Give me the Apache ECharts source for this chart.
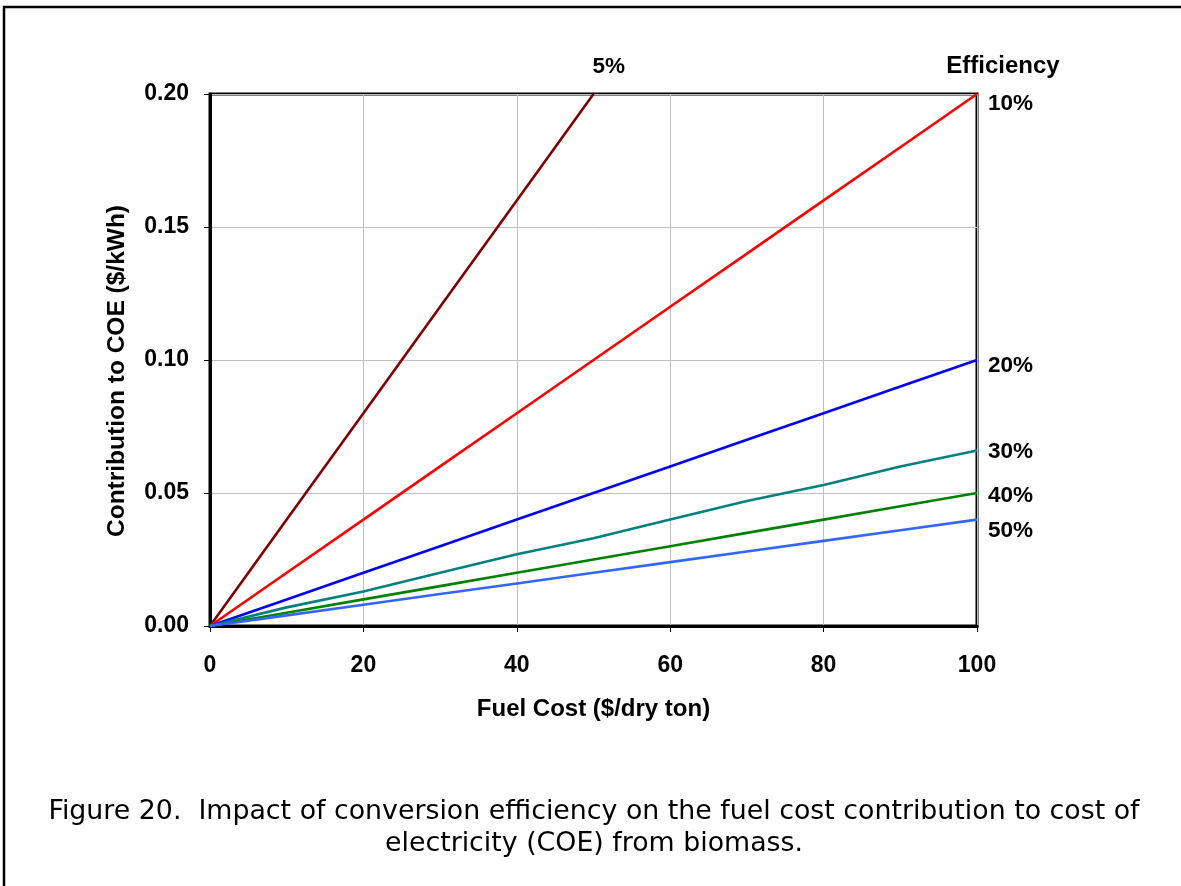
<!DOCTYPE html>
<html>
<head>
<meta charset="utf-8">
<script src="https://cdn.jsdelivr.net/npm/echarts@6/dist/echarts.min.js"></script>
<style>
  html, body { margin: 0; padding: 0; background: #fff; }
  #chart { width: 1181px; height: 886px; }
</style>
</head>
<body>
<div id="chart"></div>
<script>
// Fuel cost ($/dry ton) sample points
const fuelCost = [0, 10, 20, 30, 40, 50, 60, 70, 80, 90, 100];

// Contribution to COE ($/kWh) for each conversion efficiency
const eff5  = [0, 0.04, 0.08, 0.12, 0.16, 0.20];
const eff10 = [0, 0.02, 0.04, 0.06, 0.08, 0.10, 0.12, 0.14, 0.16, 0.18, 0.20];
const eff20 = [0, 0.01, 0.02, 0.03, 0.04, 0.05, 0.06, 0.07, 0.08, 0.09, 0.10];
const eff30 = [0, 0.007, 0.013, 0.02, 0.027, 0.033, 0.04, 0.047, 0.053, 0.06, 0.066];
const eff40 = [0, 0.005, 0.01, 0.015, 0.02, 0.025, 0.03, 0.035, 0.04, 0.045, 0.05];
const eff50 = [0, 0.004, 0.008, 0.012, 0.016, 0.02, 0.024, 0.028, 0.032, 0.036, 0.04];

const seriesNames = ['5%', '10%', '20%', '30%', '40%', '50%'];
const seriesData = [eff5, eff10, eff20, eff30, eff40, eff50];
const seriesColors = ['#800000', '#ff0000', '#0000ff', '#008080', '#008000', '#3366ff'];
const labelOffsets = [[-9, -27], [3, 10], [3, 6], [3, 1], [3, 3], [3, 11]];

const xTicks = { min: 0, max: 100, interval: 20 };
const yTicks = { min: 0, max: 0.2, interval: 0.05 };

const captionLines = [
  'Figure 20.  Impact of conversion efficiency on the fuel cost contribution to cost of',
  'electricity (COE) from biomass.'
];

const boldFont = "'Liberation Sans', Arial, sans-serif";

const chart = echarts.init(document.getElementById('chart'), null, { renderer: 'canvas' });

const series = seriesNames.map((name, i) => ({
  name: name,
  type: 'line',
  data: seriesData[i].map((v, k) => [fuelCost[k], v]),
  showSymbol: false,
  symbol: 'none',
  clip: false,
  lineStyle: { color: seriesColors[i], width: 2.6 },
  itemStyle: { color: seriesColors[i] },
  endLabel: {
    show: true,
    formatter: name,
    offset: labelOffsets[i],
    color: '#000',
    fontFamily: boldFont,
    fontWeight: 'bold',
    fontSize: 22.5
  },
  emphasis: { disabled: true },
  z: 2
}));

chart.setOption({
  animation: false,
  backgroundColor: '#fff',
  grid: {
    left: 210, right: 204, top: 94, bottom: 260,
    show: true, borderColor: '#000', borderWidth: 3, backgroundColor: 'transparent'
  },
  title: {
    text: captionLines.join('\n'),
    left: 589,
    top: 791,
    textAlign: 'center',
    textStyle: {
      fontFamily: "'DejaVu Sans', Verdana, sans-serif",
      fontWeight: 'normal',
      fontSize: 26.8,
      lineHeight: 32,
      color: '#000'
    }
  },
  xAxis: {
    type: 'value',
    min: xTicks.min, max: xTicks.max, interval: xTicks.interval,
    name: 'Fuel Cost ($/dry ton)',
    nameLocation: 'middle',
    nameGap: 71,
    nameTextStyle: { fontFamily: boldFont, fontWeight: 'bold', fontSize: 24, color: '#000' },
    axisLine: { show: true, lineStyle: { color: '#000', width: 3 } },
    axisTick: { show: true, length: 6, inside: false, lineStyle: { color: '#000', width: 1 } },
    axisLabel: { margin: 28, fontFamily: boldFont, fontWeight: 'bold', fontSize: 23, color: '#000' },
    splitLine: { show: true, lineStyle: { color: '#c0c0c0', width: 1 } }
  },
  yAxis: {
    type: 'value',
    min: yTicks.min, max: yTicks.max, interval: yTicks.interval,
    name: 'Contribution to COE ($/kWh)',
    nameLocation: 'middle',
    nameGap: 80,
    nameTextStyle: {
      fontFamily: boldFont, fontWeight: 'bold', fontSize: 24.5, color: '#000',
      padding: [0, 22, 0, 0]
    },
    axisLine: { show: true, lineStyle: { color: '#000', width: 3 } },
    axisTick: { show: true, length: 6, inside: false, lineStyle: { color: '#000', width: 1 } },
    axisLabel: {
      margin: 21, fontFamily: boldFont, fontWeight: 'bold', fontSize: 23, color: '#000',
      formatter: v => v.toFixed(2)
    },
    splitLine: { show: true, lineStyle: { color: '#c0c0c0', width: 1 } }
  },
  graphic: [
    {
      type: 'polyline',
      shape: { points: [[4, 886], [4, 7], [1181, 7]] },
      style: { stroke: '#000', lineWidth: 2.5, fill: null },
      silent: true
    },
    {
      type: 'text',
      x: 1003, y: 66,
      style: {
        text: 'Efficiency',
        fontFamily: boldFont, fontWeight: 'bold', fontSize: 24,
        fill: '#000', align: 'center', verticalAlign: 'middle'
      },
      silent: true
    }
  ],
  series: series
});
</script>
</body>
</html>
